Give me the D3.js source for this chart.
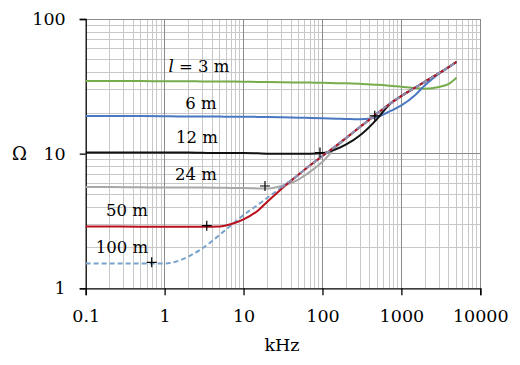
<!DOCTYPE html>
<html>
<head>
<meta charset="utf-8">
<script src="https://cdn.jsdelivr.net/npm/d3@7"></script>
<style>
  body { margin: 0; background: #fff; }
  text { font-family: "DejaVu Serif", "Liberation Serif", serif; fill: #000; }
</style>
</head>
<body>
<svg width="520" height="365"></svg>
<script>
const width = 520, height = 365;
const svg = d3.select("svg");

// frequency (kHz) shared by all curves
const freq = [0.1, 0.2, 0.5, 1, 1.5, 2, 3, 5, 7, 10, 15, 20, 30, 50, 70, 100, 150, 200, 300, 500, 700, 1000, 1500, 2000, 3000, 4000, 5000];

// impedance (ohm) per cable length
const z3m   = [34.6, 34.6, 34.6, 34.5, 34.5, 34.5, 34.4, 34.4, 34.3, 34.2, 34.1, 34.0, 33.9, 33.8, 33.7, 33.6, 33.4, 33.3, 33.0, 32.5, 32.0, 31.4, 30.7, 30.4, 31.3, 33.0, 36.6];
const z6m   = [19.0, 19.0, 19.0, 18.95, 18.9, 18.9, 18.9, 18.85, 18.8, 18.8, 18.75, 18.7, 18.6, 18.5, 18.4, 18.3, 18.2, 18.1, 18.0, 18.8, 20.5, 22.8, 27.3, 32.3, 39.3, 44.0, 48.0];
const z12m  = [10.2, 10.2, 10.2, 10.2, 10.2, 10.2, 10.15, 10.1, 10.1, 10.1, 10.05, 10.0, 10.0, 10.0, 10.0, 10.1, 10.8, 11.7, 13.7, 18.3, 23.1, 26.8, 31.0, 34.3, 39.6, 44.0, 48.0];
const z24m  = [5.65, 5.65, 5.62, 5.6, 5.6, 5.6, 5.6, 5.58, 5.56, 5.55, 5.52, 5.5, 5.75, 6.45, 7.35, 8.7, 11.2, 13.0, 15.8, 20.0, 23.3, 26.8, 31.0, 34.3, 39.6, 44.0, 48.0];
const z50m  = [2.88, 2.88, 2.87, 2.86, 2.86, 2.86, 2.86, 2.88, 3.0, 3.25, 3.75, 4.4, 5.45, 7.0, 8.2, 9.6, 11.5, 13.1, 15.8, 20.0, 23.3, 26.8, 31.0, 34.3, 39.6, 44.0, 48.0];
const z100m = [1.53, 1.53, 1.53, 1.53, 1.6, 1.72, 1.98, 2.5, 2.95, 3.5, 4.15, 4.7, 5.6, 7.0, 8.2, 9.6, 11.5, 13.1, 15.8, 20.0, 23.3, 26.8, 31.0, 34.3, 39.6, 44.0, 48.0];

// corner markers (+)
const markF = [0.686, 3.42, 18.7, 93, 460];
const markZ = [1.56, 2.92, 5.75, 10.2, 19.1];

const xTicks = [0.1, 1, 10, 100, 1000, 10000];
const yTicks = [1, 10, 100];

const x = d3.scaleLog().domain([0.1, 10000]).range([85.7, 480.3]);
const y = d3.scaleLog().domain([1, 100]).range([288.3, 19]);

// grid
const minorX = [], minorY = [];
for (let d = 0.1; d < 10000; d *= 10) for (let k = 2; k <= 9; k++) minorX.push(d * k);
for (let d = 1; d < 100; d *= 10) for (let k = 2; k <= 9; k++) minorY.push(d * k);

const grid = svg.append("g").attr("shape-rendering", "crispEdges");
grid.selectAll(".mx").data(minorX).enter().append("line")
  .attr("x1", d => x(d)).attr("x2", d => x(d)).attr("y1", y(100)).attr("y2", y(1))
  .attr("stroke", "#c8c8c8");
grid.selectAll(".my").data(minorY).enter().append("line")
  .attr("x1", x(0.1)).attr("x2", x(10000)).attr("y1", d => y(d)).attr("y2", d => y(d))
  .attr("stroke", "#c8c8c8");
grid.selectAll(".Mx").data(xTicks.slice(1)).enter().append("line")
  .attr("x1", d => x(d)).attr("x2", d => x(d)).attr("y1", y(100)).attr("y2", y(1))
  .attr("stroke", "#8a8a8a");
grid.selectAll(".My").data(yTicks.slice(1)).enter().append("line")
  .attr("x1", x(0.1)).attr("x2", x(10000)).attr("y1", d => y(d)).attr("y2", d => y(d))
  .attr("stroke", "#8a8a8a");

// axes
const fmt = d => d < 1 ? "0.1" : String(d);
const xAxis = svg.append("g").attr("transform", `translate(0,${y(1)})`)
  .call(d3.axisBottom(x).tickValues(xTicks).tickFormat(fmt).tickSize(7).tickPadding(14));
const yAxis = svg.append("g").attr("transform", `translate(${x(0.1)},0)`)
  .call(d3.axisLeft(y).tickValues(yTicks).tickFormat(d => String(d)).tickSize(6).tickPadding(14));
[xAxis, yAxis].forEach(a => {
  a.select(".domain").attr("stroke", "#000").attr("stroke-width", 1.3);
  a.selectAll(".tick line").attr("stroke", "#000").attr("stroke-width", 1.3);
  a.selectAll("text").attr("font-size", 17.5).attr("font-family", "DejaVu Serif").attr("fill", "#000");
});

svg.append("text").attr("x", 19.5).attr("y", 160).attr("text-anchor", "middle")
  .attr("font-size", 18).text("Ω");
svg.append("text").attr("x", 282).attr("y", 351).attr("text-anchor", "middle")
  .attr("font-size", 17.5).text("kHz");

// curves
const series = [
  {z: z3m,   color: "#77ac4c", dash: null},
  {z: z6m,   color: "#4a78c2", dash: null},
  {z: z24m,  color: "#a8a8a8", dash: null},
  {z: z12m,  color: "#111111", dash: null},
  {z: z100m, color: "#7aa3cb", dash: "5,3"},
  {z: z50m,  color: "#b8101c", dash: null}
];
const line = d3.line().x(d => x(d[0])).y(d => y(d[1])).curve(d3.curveMonotoneX);

series.forEach(s => {
  svg.append("path")
    .datum(freq.map((f, i) => [f, s.z[i]]))
    .attr("fill", "none")
    .attr("stroke", s.color)
    .attr("stroke-width", 2)
    .attr("stroke-dasharray", s.dash)
    .attr("d", line);
});
// the dashed 100 m line shows through on top at high frequency
svg.append("path")
  .datum(freq.map((f, i) => [f, z100m[i]]).filter(d => d[0] >= 30))
  .attr("fill", "none").attr("stroke", "#8e93b4").attr("stroke-width", 2.2)
  .attr("stroke-dasharray", "5,3").attr("d", line);

// + markers
svg.selectAll(".mark").data(markF.map((f, i) => [f, markZ[i]])).enter().append("path")
  .attr("d", d => `M${x(d[0]) - 5},${y(d[1])}h10M${x(d[0])},${y(d[1]) - 5}v10`)
  .attr("stroke", "#000").attr("stroke-width", 1.2);

// length labels
const labels = [
  {t: "3 m", x: 199, y: 72, l: true},
  {t: "6 m", x: 201, y: 109},
  {t: "12 m", x: 197, y: 143},
  {t: "24 m", x: 196, y: 180},
  {t: "50 m", x: 127, y: 216},
  {t: "100 m", x: 122, y: 253}
];
labels.forEach(d => {
  const t = svg.append("text").attr("x", d.x).attr("y", d.y).attr("text-anchor", "middle").attr("font-size", 16.5);
  if (d.l) {
    t.append("tspan").attr("font-style", "italic").text("l");
    t.append("tspan").text(" = " + d.t);
  } else t.text(d.t);
});
</script>
</body>
</html>
